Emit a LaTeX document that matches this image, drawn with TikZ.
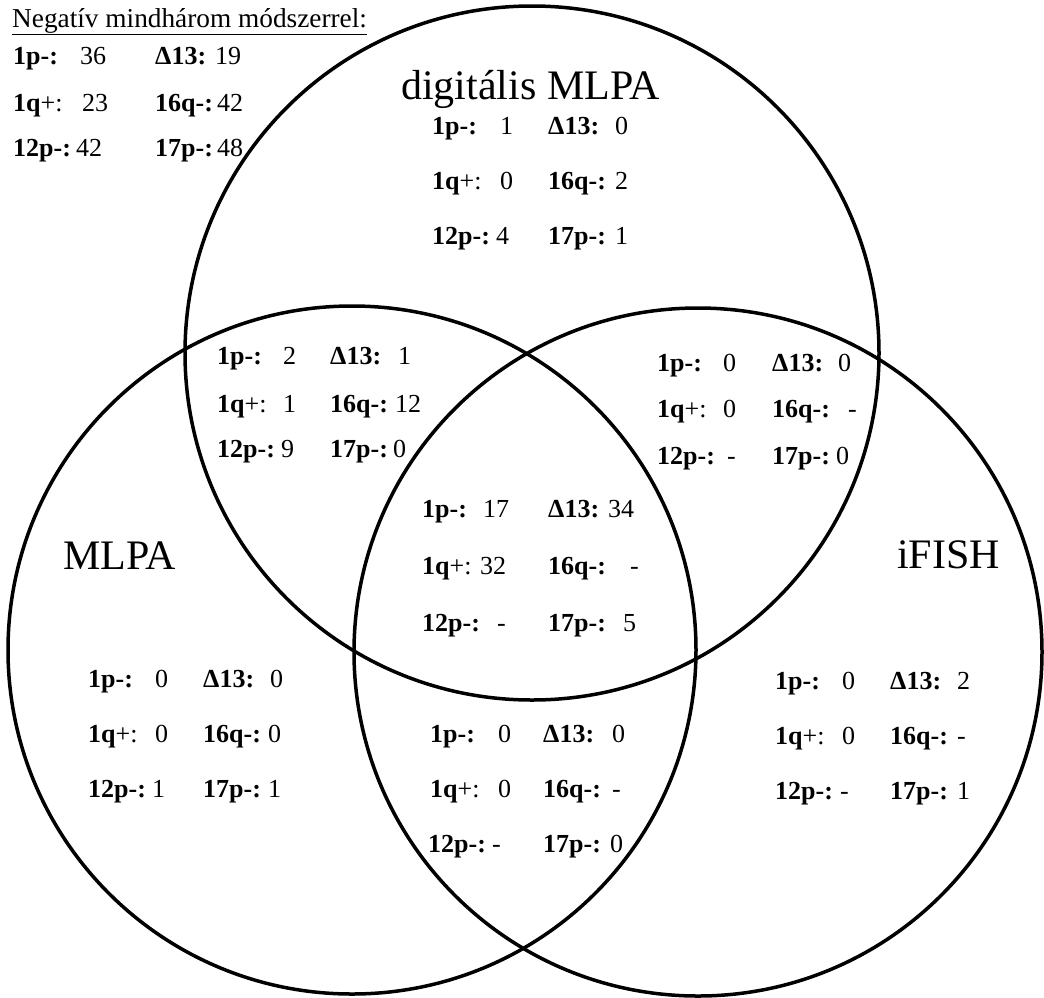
\documentclass[tikz,border=0pt]{standalone}
\usepackage{fontspec}
\setmainfont{Liberation Serif}
\tikzset{
  ring/.style={line width=3.5pt, draw=black},
  dt/.style={anchor=base west, inner sep=0pt, font=\fontsize{26}{30}\selectfont},
  ttl/.style={anchor=base west, inner sep=0pt, font=\fontsize{42}{48}\selectfont}
}
\newcommand\dcell[6]{\node[dt] (#1a) at (#3,#2) {\textbf{#4}}; \node[dt] (#1b) at (#5,#2) {#6};}
\newcommand\qp{1q\textmd{+:}}
\begin{document}
\begin{tikzpicture}[x=1pt,y=-1pt]
\useasboundingbox (0,0) rectangle (1044,997);
\fill[white] (0,0) rectangle (1044,997);
% circles
\draw[ring] (532,353) circle[radius=347];
\draw[ring] (352,650) circle[radius=344];
\draw[ring] (698,652) circle[radius=344];
% titles
\node[dt, font=\fontsize{27.3}{30}\selectfont] (head) at (12,27) {\underline{Negatív mindhárom módszerrel:}};
\node[ttl] (tdm) at (401,99) {digitális MLPA};
\node[ttl] (tm) at (63,569) {MLPA};
\node[ttl] (tf) at (897,568) {iFISH};
% top-left
\dcell{tl1}{64}{13}{1p-:}{80}{36}
\dcell{tl2}{64}{155}{Δ13:}{215}{19}
\dcell{tl3}{111}{13}{\qp}{82}{23}
\dcell{tl4}{111}{155}{16q-:}{217}{42}
\dcell{tl5}{156}{13}{12p-:}{76}{42}
\dcell{tl6}{156}{155}{17p-:}{217}{48}
% digital only
\dcell{d1}{134}{432}{1p-:}{500}{1}
\dcell{d2}{134}{548}{Δ13:}{615}{0}
\dcell{d3}{189}{432}{\qp}{500}{0}
\dcell{d4}{189}{548}{16q-:}{615}{2}
\dcell{d5}{244}{432}{12p-:}{496}{4}
\dcell{d6}{244}{548}{17p-:}{615}{1}
% digital & MLPA
\dcell{dm1}{364}{217}{1p-:}{283}{2}
\dcell{dm2}{364}{330}{Δ13:}{398}{1}
\dcell{dm3}{412}{217}{\qp}{283}{1}
\dcell{dm4}{412}{330}{16q-:}{395}{12}
\dcell{dm5}{457}{217}{12p-:}{281}{9}
\dcell{dm6}{457}{330}{17p-:}{393}{0}
% digital & iFISH
\dcell{df1}{371}{657}{1p-:}{723}{0}
\dcell{df2}{371}{772}{Δ13:}{838}{0}
\dcell{df3}{417}{657}{\qp}{723}{0}
\dcell{df4}{417}{772}{16q-:}{848}{-}
\dcell{df5}{464}{657}{12p-:}{727}{-}
\dcell{df6}{464}{772}{17p-:}{836}{0}
% center
\dcell{c1}{517}{422}{1p-:}{483}{17}
\dcell{c2}{517}{548}{Δ13:}{608}{34}
\dcell{c3}{574}{422}{\qp}{480}{32}
\dcell{c4}{574}{548}{16q-:}{630}{-}
\dcell{c5}{631}{422}{12p-:}{497}{-}
\dcell{c6}{631}{548}{17p-:}{623}{5}
% MLPA only
\dcell{m1}{687}{88}{1p-:}{155}{0}
\dcell{m2}{687}{203}{Δ13:}{270}{0}
\dcell{m3}{742}{88}{\qp}{155}{0}
\dcell{m4}{742}{203}{16q-:}{268}{0}
\dcell{m5}{797}{88}{12p-:}{152}{1}
\dcell{m6}{797}{203}{17p-:}{268}{1}
% MLPA & iFISH
\dcell{mf1}{742}{430}{1p-:}{498}{0}
\dcell{mf2}{742}{543}{Δ13:}{612}{0}
\dcell{mf3}{797}{430}{\qp}{498}{0}
\dcell{mf4}{797}{543}{16q-:}{612}{-}
\dcell{mf5}{852}{428}{12p-:}{492}{-}
\dcell{mf6}{852}{543}{17p-:}{610}{0}
% iFISH only
\dcell{f1}{689}{775}{1p-:}{842}{0}
\dcell{f2}{689}{890}{Δ13:}{957}{2}
\dcell{f3}{744}{775}{\qp}{842}{0}
\dcell{f4}{744}{890}{16q-:}{957}{-}
\dcell{f5}{799}{775}{12p-:}{840}{-}
\dcell{f6}{799}{890}{17p-:}{957}{1}
\end{tikzpicture}
\end{document}
